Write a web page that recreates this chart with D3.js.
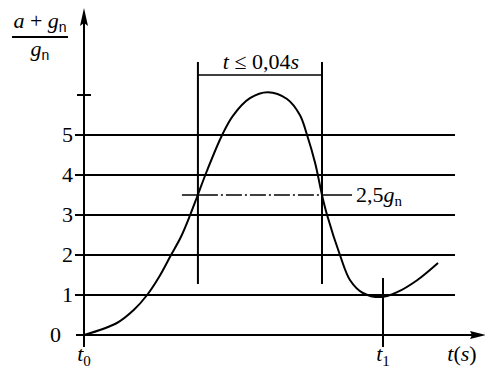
<!DOCTYPE html>
<meta charset="utf-8">
<svg width="485" height="370"></svg>
<script src="https://d3js.org/d3.v7.min.js"></script>
<script>
// y levels drawn as horizontal lines (in units of g_n)
var levels = [1, 2, 3, 4, 5];
var tickLabels = ["0", "1", "2", "3", "4", "5"];
// normalised time (t0 = 0, t1 = 1) and the curve value
var curveT = [0, 0.110, 0.167, 0.211, 0.251, 0.291, 0.324, 0.355, 0.378, 0.411, 0.462, 0.498, 0.555, 0.615, 0.679, 0.722, 0.746, 0.773, 0.796, 0.813, 0.856, 0.890, 0.933, 0.997, 1.047, 1.114, 1.184];
var curveV = [0, 0.30, 0.63, 1.0, 1.45, 2.0, 2.45, 3.0, 3.45, 4.1, 5.0, 5.48, 5.92, 6.07, 5.9, 5.5, 5.0, 4.3, 3.5, 3.0, 2.0, 1.37, 1.05, 0.95, 1.07, 1.37, 1.8];
var bracketT = [0.381, 0.796];   // the two vertical lines
var markT = 1;                    // t1
var markLevel = 3.5;              // level of the 2,5 g_n dash-dot line
var peakTick = 6;

// body keeps its default 8px margin, so shift the drawing back
var svg = d3.select("svg").append("g").attr("transform", "translate(-8,-8)");
var x = d3.scaleLinear().domain([0, 1]).range([84, 383]);
var y = d3.scaleLinear().domain([0, 5]).range([335, 135]);

function txt(xp, yp, anchor) {
  return svg.append("text").attr("x", xp).attr("y", yp).attr("text-anchor", anchor || "start")
    .attr("font-family", "Liberation Serif").attr("font-size", 22);
}
function part(t, s, italic) {
  var p = t.append("tspan").text(s);
  if (italic) p.attr("font-style", "italic");
  return p;
}
function hline(x1, x2, yy, w) {
  return svg.append("line").attr("x1", x1).attr("x2", x2).attr("y1", yy).attr("y2", yy)
    .attr("stroke", "#000").attr("stroke-width", w || 2);
}
function vline(xx, y1, y2, w) {
  return svg.append("line").attr("x1", xx).attr("x2", xx).attr("y1", y1).attr("y2", y2)
    .attr("stroke", "#000").attr("stroke-width", w || 2);
}

// grid lines
svg.append("g").selectAll("line").data(levels).enter().append("line")
    .attr("x1", 75).attr("x2", 455)
    .attr("y1", function(d) { return y(d); })
    .attr("y2", function(d) { return y(d); })
    .attr("stroke", "#000").attr("stroke-width", 2);

// x axis with arrow
hline(76, 478, y(0));
svg.append("path").attr("d", "M486," + y(0) + "L470," + (y(0) - 4) + "L472," + y(0) + "L470," + (y(0) + 4) + "Z");

// y axis with arrow
vline(x(0), 347, 18);
svg.append("path").attr("d", "M" + x(0) + ",8L" + (x(0) - 4) + ",26L" + x(0) + ",23L" + (x(0) + 4) + ",26Z");
hline(x(0) - 7, x(0) + 7, y(peakTick));

// tick labels
tickLabels.forEach(function(d, i) {
  txt(i === 0 ? 61 : 73, y(i) + 7, "end").text(d);
});

// t1 marker
vline(x(markT), 278, 347);

// bracket
bracketT.forEach(function(t) { vline(x(t), 62, 284); });
hline(x(bracketT[0]), x(bracketT[1]), 75, 1.5);
var br = txt((x(bracketT[0]) + x(bracketT[1])) / 2 + 1, 69, "middle");
part(br, "t", true);
part(br, " \u2264 0,04", false);
part(br, "s", true);

// 2,5 g_n dash-dot line
hline(x(bracketT[0]) - 16, x(bracketT[0]) + 4, y(markLevel), 1.5);
hline(x(bracketT[0]) + 4, x(bracketT[1]), y(markLevel), 1.5).attr("stroke-dasharray", "16,3,2,3");
hline(x(bracketT[1]), 352, y(markLevel), 1.5);
var lab = txt(356, y(markLevel) + 7);
part(lab, "2,5", false);
part(lab, "g", true);
part(lab, "n", false).attr("dy", 4).attr("font-size", 15);

// curve
var pts = curveT.map(function(t, i) { return [t, curveV[i]]; });
svg.append("path").datum(pts)
  .attr("fill", "none").attr("stroke", "#000").attr("stroke-width", 2)
  .attr("d", d3.line().x(function(d) { return x(d[0]); }).y(function(d) { return y(d[1]); })
    .curve(d3.curveCatmullRom.alpha(0.5)));

// x labels
function sub(xp, main, s) {
  var t = txt(xp, 361, "middle");
  part(t, main, true);
  part(t, s, false).attr("dy", 5).attr("font-size", 15);
}
sub(x(0), "t", "0");
sub(x(markT), "t", "1");
var ts = txt(462, 361, "middle");
part(ts, "t", true);
part(ts, "(", false);
part(ts, "s", true);
part(ts, ")", false);

// y title fraction
var num = txt(40, 28, "middle");
part(num, "a", true);
part(num, " + ", false);
part(num, "g", true);
part(num, "n", false).attr("dy", 4).attr("font-size", 14).attr("font-family", "Liberation Sans");
hline(12, 68, 37);
var den = txt(40, 56, "middle");
part(den, "g", true);
part(den, "n", false).attr("dy", 4).attr("font-size", 14).attr("font-family", "Liberation Sans");
</script>
